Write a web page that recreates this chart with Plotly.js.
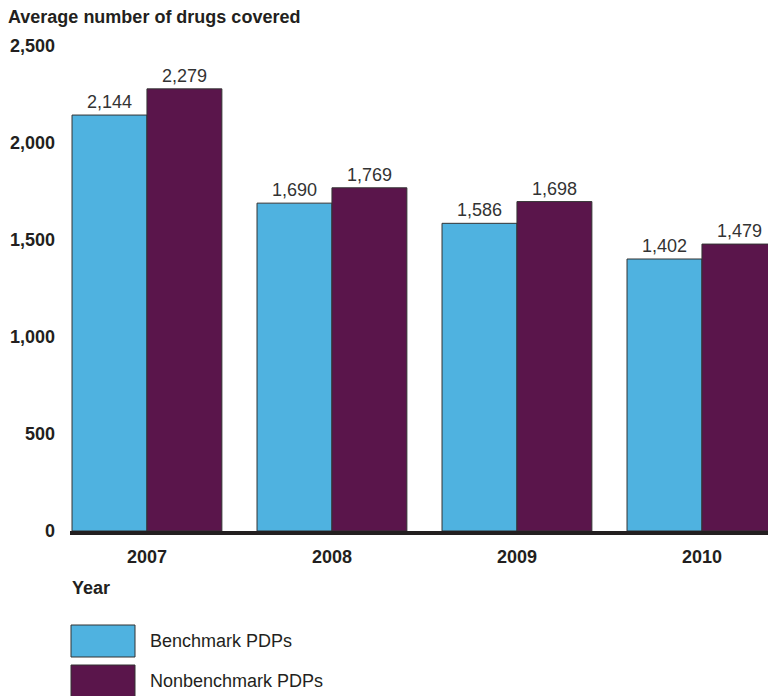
<!DOCTYPE html>
<html>
<head>
<meta charset="utf-8">
<script src="https://cdn.plot.ly/plotly-3.0.1.min.js"></script>
<style>
  html, body { margin: 0; padding: 0; background: #fff; }
  #chart { width: 768px; height: 696px; }
</style>
</head>
<body>
<div id="chart"></div>
<script>
// Average number of drugs covered by plan type, 2007-2010
const years = ['2007', '2008', '2009', '2010'];
const benchmark = [2144, 1690, 1586, 1402];
const nonbenchmark = [2279, 1769, 1698, 1479];
const yTicks = [0, 500, 1000, 1500, 2000, 2500];
const seriesNames = ['Benchmark PDPs', 'Nonbenchmark PDPs'];
const seriesColors = ['#4FB2E0', '#5A154B'];

const FONT = 'Liberation Sans, Arial, Helvetica, sans-serif';
const fmt = v => v.toLocaleString('en-US');

const traces = [benchmark, nonbenchmark].map((vals, i) => ({
  type: 'bar',
  name: seriesNames[i],
  x: years,
  y: vals,
  text: vals.map(fmt),
  textposition: 'outside',
  cliponaxis: false,
  textfont: { family: FONT, size: 18, color: '#333333' },
  marker: { color: seriesColors[i], line: { color: '#333333', width: 1 } },
  hoverinfo: 'x+y',
  showlegend: false
}));

// Plot area geometry in pixels, used to place the title, axis name and legend
const PW = 698, PH = 485, PT = 46;
const px = x => (x - 70) / PW;
const py = y => (PT + PH - y) / PH;

// Legend drawn as large swatches with labels below the axis
const shapes = [];
const annotations = [
  { text: '<b>Average number of drugs covered</b>', xref: 'paper', yref: 'paper',
    x: px(6), y: py(17), xanchor: 'left', yanchor: 'middle', showarrow: false,
    font: { family: FONT, size: 18, color: '#231F20' } },
  { text: '<b>Year</b>', xref: 'paper', yref: 'paper',
    x: px(70), y: py(588), xanchor: 'left', yanchor: 'middle', showarrow: false,
    font: { family: FONT, size: 18, color: '#231F20' } }
];
seriesNames.forEach((name, i) => {
  const top = 625 + i * 40;
  shapes.push({
    type: 'rect', xref: 'paper', yref: 'paper',
    x0: px(71), x1: px(135),
    y0: py(top), y1: py(top + 32),
    fillcolor: seriesColors[i], line: { color: '#333333', width: 1 }
  });
  annotations.push({
    text: name, xref: 'paper', yref: 'paper',
    x: px(148), y: py(top + 16),
    xanchor: 'left', yanchor: 'middle', showarrow: false,
    font: { family: FONT, size: 18, color: '#231F20' }
  });
});

const layout = {
  width: 768, height: 696,
  margin: { l: 70, r: 0, t: PT, b: 696 - PT - PH },
  paper_bgcolor: '#ffffff', plot_bgcolor: '#ffffff',
  barmode: 'group',
  bargap: 0.19,
  bargroupgap: 0,
  xaxis: {
    type: 'category',
    range: [-0.416, 3.357],
    showgrid: false, zeroline: false,
    showline: true, linecolor: '#231F20', linewidth: 4,
    ticks: '', ticklabelstandoff: 6,
    tickfont: { family: FONT, size: 18, color: '#231F20', weight: 'bold' },
    fixedrange: true
  },
  yaxis: {
    range: [0, 2500],
    tickvals: yTicks,
    ticktext: yTicks.map(v => '<b>' + fmt(v) + '</b>'),
    showgrid: false, zeroline: false, showline: false,
    ticks: '', ticklabelstandoff: 14,
    tickfont: { family: FONT, size: 18, color: '#231F20' },
    fixedrange: true
  },
  shapes: shapes,
  annotations: annotations,
  showlegend: false
};

Plotly.newPlot('chart', traces, layout, { displayModeBar: false, staticPlot: true });
</script>
</body>
</html>
